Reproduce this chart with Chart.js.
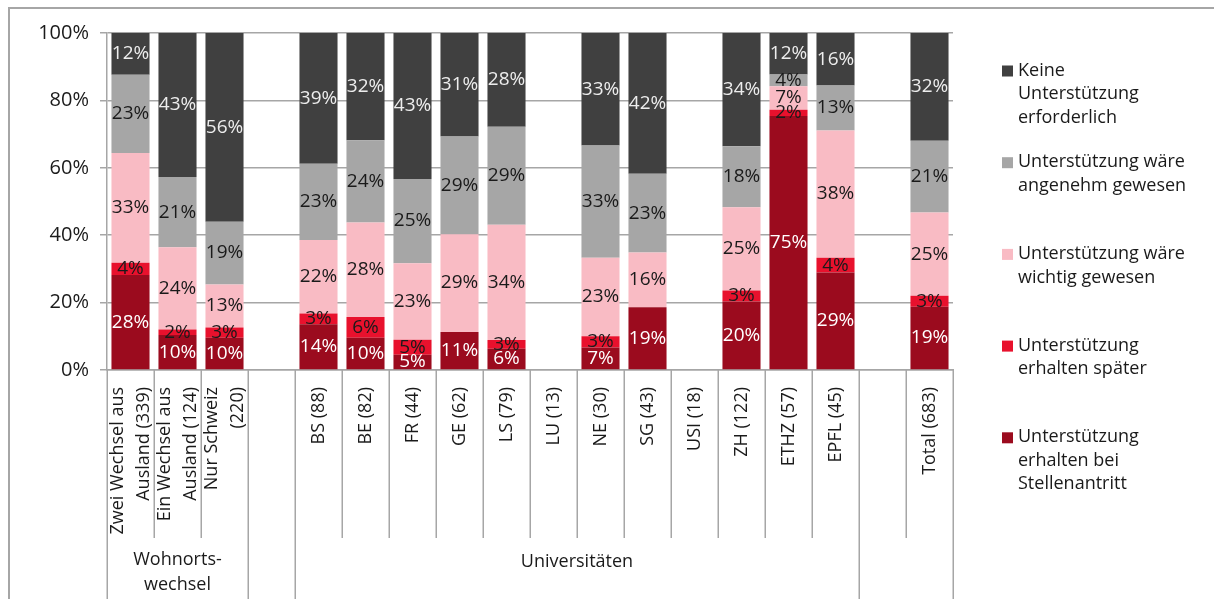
<!DOCTYPE html>
<html><head><meta charset="utf-8">
<script src="https://cdn.jsdelivr.net/npm/chart.js@4/dist/chart.umd.min.js"></script>
<style>html,body{margin:0;padding:0;background:#fff;}#wrap{width:1214px;height:599px;position:relative;}</style>
</head><body><div id="wrap"><canvas id="c" width="1214" height="599"></canvas></div>
<script>
// ---- data ----
const categories = [
  ['Zwei Wechsel aus','Ausland (339)'], ['Ein Wechsel aus','Ausland (124)'], ['Nur Schweiz','(220)'], [''],
  ['BS (88)'], ['BE (82)'], ['FR (44)'], ['GE (62)'], ['LS (79)'], ['LU (13)'], ['NE (30)'], ['SG (43)'],
  ['USI (18)'], ['ZH (122)'], ['ETHZ (57)'], ['EPFL (45)'], [''], ['Total (683)']
];
const groups = [
  { label: ['Wohnorts-','wechsel'], from: 0, to: 2 },
  { label: [], from: 3, to: 3 },
  { label: ['Universitäten'], from: 4, to: 15 },
  { label: [], from: 16, to: 17 }
];
const erhaltenBei     = [28.2,10.4, 9.6,null,13.6, 9.6, 4.5,11.3, 6.3,null, 6.7,18.6,null,20.3,75.4,28.9,null,18.8];
const erhaltenSpaeter = [ 3.6, 1.6, 3.0,null, 3.2, 6.1, 4.5, 0  , 2.6,null, 3.3, 0  ,null, 3.3, 1.8, 4.4,null, 3.2];
const waereWichtig    = [32.6,24.4,12.8,null,21.8,28.1,22.7,29.0,34.2,null,23.3,16.3,null,24.7, 7.0,37.8,null,24.7];
const waereAngenehm   = [23.2,20.9,18.6,null,22.6,24.4,25.0,29.0,29.1,null,33.3,23.3,null,18.1, 3.5,13.3,null,21.3];
const keineNoetig     = [12.4,42.7,56.0,null,38.8,31.8,43.3,30.7,27.8,null,33.4,41.8,null,33.6,12.3,15.6,null,32.0];
const seriesNames = [
  ['Unterstützung','erhalten bei','Stellenantritt'],
  ['Unterstützung','erhalten später'],
  ['Unterstützung wäre','wichtig gewesen'],
  ['Unterstützung wäre','angenehm gewesen'],
  ['Keine','Unterstützung','erforderlich']
];
const yTickLabels = ['0%','20%','40%','60%','80%','100%'];

// ---- styles ----
const COLORS = ['#9B0B1E','#E8112D','#F9BBC4','#A6A6A6','#404040'];
const LABEL_COLORS = ['#FFFFFF','#1A1A1A','#1A1A1A','#1A1A1A','#EDEDED'];
const FONT = "'Open Sans','Noto Sans',sans-serif";
const LINE = '#A6A6A6';
Chart.defaults.font.family = FONT;

const seriesValues = [erhaltenBei, erhaltenSpaeter, waereWichtig, waereAngenehm, keineNoetig];

const decor = {
  id: 'decor',
  afterDraw(chart) {
    const ctx = chart.ctx, x = chart.scales.x, ca = chart.chartArea;
    const n = categories.length;
    const w = x.getPixelForValue(1) - x.getPixelForValue(0);
    const edge = i => x.getPixelForValue(i) - w / 2;
    const catBottom = ca.bottom + 168;
    const H = chart.height;
    ctx.save();
    // outer frame (top and left)
    ctx.strokeStyle = LINE; ctx.lineWidth = 2;
    ctx.beginPath(); ctx.moveTo(9, H); ctx.lineTo(9, 8); ctx.lineTo(chart.width, 8); ctx.stroke();
    // category separators
    ctx.lineWidth = 1.5;
    const groupEdges = new Set();
    groups.forEach(g => { groupEdges.add(g.from); groupEdges.add(g.to + 1); });
    for (let i = 0; i <= n; i++) {
      const px = Math.round(edge(i)) + 0.25;
      ctx.beginPath(); ctx.moveTo(px, ca.bottom); ctx.lineTo(px, groupEdges.has(i) ? H : catBottom); ctx.stroke();
    }
    // category labels (rotated)
    ctx.fillStyle = '#1A1A1A';
    ctx.font = '18px ' + FONT;
    ctx.textAlign = 'right'; ctx.textBaseline = 'middle';
    categories.forEach((lines, i) => {
      const cx = x.getPixelForValue(i);
      ctx.save();
      ctx.translate(cx, ca.bottom + 17);
      ctx.rotate(-Math.PI / 2);
      lines.forEach((t, j) => ctx.fillText(t, 0, (j - (lines.length - 1) / 2) * 26));
      ctx.restore();
    });
    // group labels
    ctx.textAlign = 'center';
    groups.forEach(g => {
      const cx = (edge(g.from) + edge(g.to + 1)) / 2;
      const y0 = catBottom + (g.label.length > 1 ? 22 : 24);
      g.label.forEach((t, j) => ctx.fillText(t, cx, y0 + j * 25));
    });
    // legend (top series first)
    ctx.textAlign = 'left';
    const order = [4, 3, 2, 1, 0];
    order.forEach((di, k) => {
      const y = 70.5 + k * 91.7;
      ctx.fillStyle = COLORS[di];
      ctx.fillRect(1002, y - 5, 11, 11);
      ctx.fillStyle = '#1A1A1A';
      seriesNames[di].forEach((t, j) => ctx.fillText(t, 1018, y + j * 23.5));
    });
    ctx.restore();
  },
  afterDatasetsDraw(chart) {
    const ctx = chart.ctx;
    ctx.save();
    ctx.font = '19px ' + FONT;
    ctx.textAlign = 'center'; ctx.textBaseline = 'middle';
    chart.data.datasets.forEach((ds, di) => {
      const meta = chart.getDatasetMeta(di);
      meta.data.forEach((bar, i) => {
        const v = ds.data[i];
        if (v === null || v === 0) return;
        ctx.fillStyle = LABEL_COLORS[di];
        ctx.fillText(Math.round(v) + '%', bar.x, (bar.y + bar.base) / 2);
      });
    });
    ctx.restore();
  }
};

new Chart(document.getElementById('c'), {
  type: 'bar',
  data: {
    labels: categories.map(l => l.join(' ')),
    datasets: seriesValues.map((vals, di) => ({
      label: seriesNames[di].join(' '),
      data: vals,
      backgroundColor: COLORS[di],
      borderWidth: 0,
      barPercentage: 0.81,
      categoryPercentage: 1.0
    }))
  },
  options: {
    responsive: false,
    animation: false,
    layout: { padding: { left: 0, right: 261, top: 33, bottom: 0 } },
    plugins: { legend: { display: false }, tooltip: { enabled: false } },
    scales: {
      x: {
        stacked: true,
        grid: { display: false },
        border: { display: true, color: LINE, width: 1.5 },
        ticks: { display: false },
        afterFit: s => { s.height = 229; }
      },
      y: {
        stacked: true, min: 0, max: 100,
        ticks: { stepSize: 20, padding: 11, color: '#1A1A1A', font: { size: 20 },
                 callback: (v) => yTickLabels[Math.round(v / 20)] },
        grid: { color: LINE, lineWidth: 1.5, tickLength: 7, drawTicks: true },
        border: { display: true, color: LINE, width: 1.5 },
        afterFit: s => { s.width = 107; }
      }
    }
  },
  plugins: [decor]
});
</script>
</body></html>
